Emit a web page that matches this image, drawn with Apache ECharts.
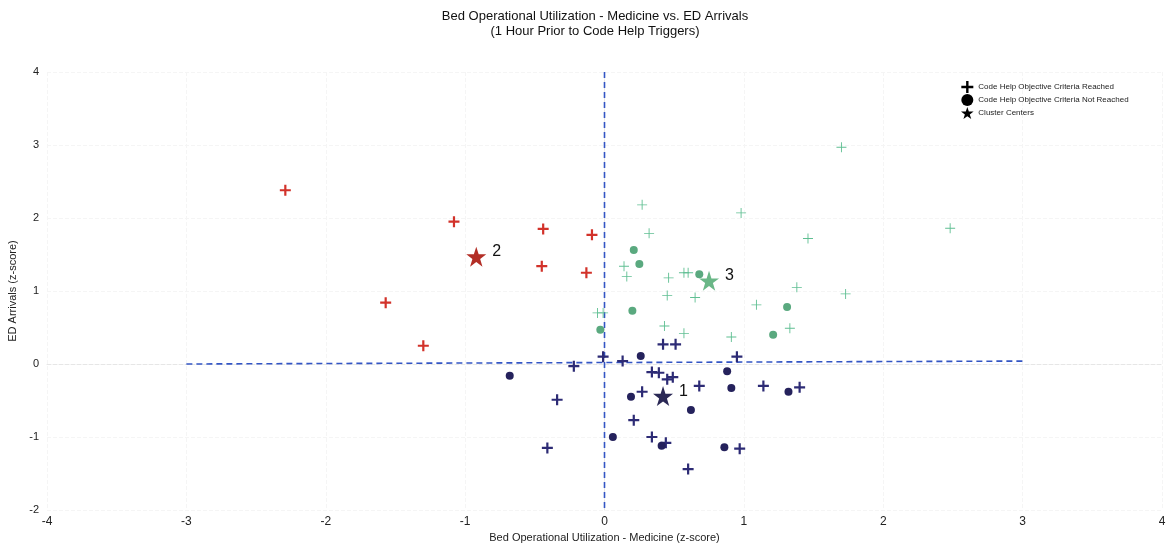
<!DOCTYPE html>
<html>
<head>
<meta charset="utf-8">
<script src="https://cdn.jsdelivr.net/npm/echarts@6/dist/echarts.min.js"></script>
<style>
  html, body { margin: 0; padding: 0; background: #fff; }
  #main { width: 1167px; height: 547px; }
</style>
</head>
<body>
<div id="main"></div>
<script>
var myChart = echarts.init(document.getElementById('main'));

// cluster 2 (red) - criteria reached
var c2Reached = [[-2.29, 2.38], [-1.08, 1.95], [-0.44, 1.85], [-0.09, 1.77], [-0.45, 1.34],
  [-0.13, 1.25], [-1.57, 0.84], [-1.30, 0.25]];

// cluster 3 (green)
var c3Reached = [[0.27, 2.18], [0.98, 2.07], [0.32, 1.79], [1.46, 1.72], [2.48, 1.86], [1.70, 2.97],
  [0.14, 1.34], [0.16, 1.20], [0.46, 1.18], [0.57, 1.25], [0.60, 1.25], [0.45, 0.94], [0.65, 0.91],
  [1.38, 1.05], [1.73, 0.96], [1.09, 0.81], [-0.05, 0.70], [-0.01, 0.70], [0.43, 0.52], [0.57, 0.42],
  [0.91, 0.37], [1.33, 0.49]];
var c3NotReached = [[0.21, 1.56], [0.25, 1.37], [0.68, 1.23], [0.20, 0.73], [-0.03, 0.47],
  [1.31, 0.78], [1.21, 0.40]];

// cluster 1 (navy)
var c1Reached = [[0.42, 0.27], [0.51, 0.27], [-0.01, 0.10], [0.13, 0.04], [-0.22, -0.03], [0.95, 0.10],
  [0.34, -0.11], [0.39, -0.12], [0.45, -0.21], [0.49, -0.18], [0.68, -0.30], [1.14, -0.30], [1.40, -0.32],
  [0.27, -0.38], [-0.34, -0.49], [0.21, -0.77], [0.34, -1.00], [0.44, -1.08], [-0.41, -1.15],
  [0.97, -1.16], [0.60, -1.44]];
var c1NotReached = [[0.26, 0.11], [-0.68, -0.16], [0.88, -0.10], [0.19, -0.45], [0.91, -0.33],
  [1.32, -0.38], [0.62, -0.63], [0.06, -1.00], [0.41, -1.12], [0.86, -1.14]];

// cluster centers with labels
var centers = [[0.42, -0.44, '1'], [-0.92, 1.47, '2'], [0.75, 1.14, '3']];

// dashed reference lines
var hLine = [[-3, 0], [3, 0.04]];
var vLine = [[0, 4], [0, -2]];

var legendNames = ['Code Help Objective Criteria Reached', 'Code Help Objective Criteria Not Reached', 'Cluster Centers'];

var thickCross = 'path://M4,0H6V4H10V6H6V10H4V6H0V4H4Z';
var thinCross = 'path://M4.55,0H5.45V4.55H10V5.45H5.45V10H4.55V5.45H0V4.55H4.55Z';
var star = 'path://M50,0L61.8,35.4L99,35.4L69,57.3L80.4,93L50,71L19.6,93L31,57.3L1,35.4L38.2,35.4Z';

var refLineStyle = { color: '#3355c4', width: 1.6, type: [6, 4] };

var option = {
  animation: false,
  textStyle: { fontFamily: 'Liberation Sans, Arial, sans-serif' },
  title: {
    text: 'Bed Operational Utilization - Medicine vs. ED Arrivals\n(1 Hour Prior to Code Help Triggers)',
    left: 590,
    textAlign: 'center',
    top: 4,
    textStyle: { fontSize: 13, fontWeight: 'normal', color: '#111', lineHeight: 15 }
  },
  legend: {
    orient: 'vertical',
    left: 956,
    top: 76,
    itemWidth: 16,
    itemHeight: 12,
    itemGap: 1,
    data: [
      { name: legendNames[0], icon: thickCross },
      { name: legendNames[1], icon: 'circle' },
      { name: legendNames[2], icon: star }
    ],
    textStyle: { fontSize: 8, color: '#222', padding: [0, 0, 0, -2] }
  },
  grid: { left: 47, right: 5, top: 72, bottom: 37, outerBoundsMode: 'none' },
  xAxis: {
    type: 'value',
    min: -4, max: 4, interval: 1,
    name: 'Bed Operational Utilization - Medicine (z-score)',
    nameLocation: 'middle',
    nameGap: 22,
    nameTextStyle: { fontSize: 11, color: '#222', fontFamily: 'Liberation Sans Narrow, Arial Narrow, sans-serif' },
    axisLine: { show: true, lineStyle: { color: '#e6e6e6', type: 'dashed' } },
    axisTick: { show: false },
    axisLabel: { fontSize: 12, color: '#222', margin: 6, fontFamily: 'Liberation Sans Narrow, Arial Narrow, sans-serif' },
    splitLine: { show: true, lineStyle: { color: '#f5f5f5', type: 'dashed' } }
  },
  yAxis: {
    type: 'value',
    min: -2, max: 4, interval: 1,
    name: 'ED Arrivals (z-score)',
    nameLocation: 'middle',
    nameGap: 20,
    nameTextStyle: { fontSize: 11, color: '#222' },
    axisLine: { show: true, lineStyle: { color: '#e6e6e6', type: 'dashed' } },
    axisTick: { show: false },
    axisLabel: { fontSize: 11, color: '#222', margin: 8 },
    splitLine: { show: true, lineStyle: { color: '#f5f5f5', type: 'dashed' } }
  },
  series: [
    { // horizontal reference
      type: 'line', data: hLine, symbol: 'none', silent: true,
      lineStyle: refLineStyle, z: 1
    },
    { // vertical reference
      type: 'line', data: vLine, symbol: 'none', silent: true,
      lineStyle: refLineStyle, z: 1
    },
    {
      type: 'scatter', data: c2Reached, symbol: thickCross, symbolSize: 11,
      itemStyle: { color: '#d2322a', opacity: 1 }
    },
    {
      type: 'scatter', data: c3Reached, symbol: thinCross, symbolSize: 10,
      itemStyle: { color: '#5fbf92', opacity: 1 }
    },
    {
      type: 'scatter', data: c3NotReached, symbol: 'circle', symbolSize: 8,
      itemStyle: { color: '#5aa97f', opacity: 1 }
    },
    {
      type: 'scatter', data: c1Reached, symbol: thickCross, symbolSize: 11,
      itemStyle: { color: '#2d2b75', opacity: 1 }
    },
    {
      type: 'scatter', data: c1NotReached, symbol: 'circle', symbolSize: 8,
      itemStyle: { color: '#25225c', opacity: 1 }
    },
    {
      type: 'scatter',
      data: centers.map(function (c, i) {
        return {
          value: [c[0], c[1]],
          itemStyle: { color: ['#2a2855', '#b32e26', '#6ab787'][i], opacity: 1 }
        };
      }),
      symbol: star,
      symbolSize: 20,
      z: 5,
      label: {
        show: true,
        position: 'right',
        distance: 6,
        offset: [0, -5],
        formatter: function (p) { return centers[p.dataIndex][2]; },
        fontSize: 16,
        color: '#111'
      }
    },
    // legend-only series (black icons)
    { name: legendNames[0], type: 'scatter', data: [], itemStyle: { color: '#000', opacity: 1 } },
    { name: legendNames[1], type: 'scatter', data: [], itemStyle: { color: '#000', opacity: 1 } },
    { name: legendNames[2], type: 'scatter', data: [], itemStyle: { color: '#000', opacity: 1 } }
  ]
};

myChart.setOption(option);
</script>
</body>
</html>
